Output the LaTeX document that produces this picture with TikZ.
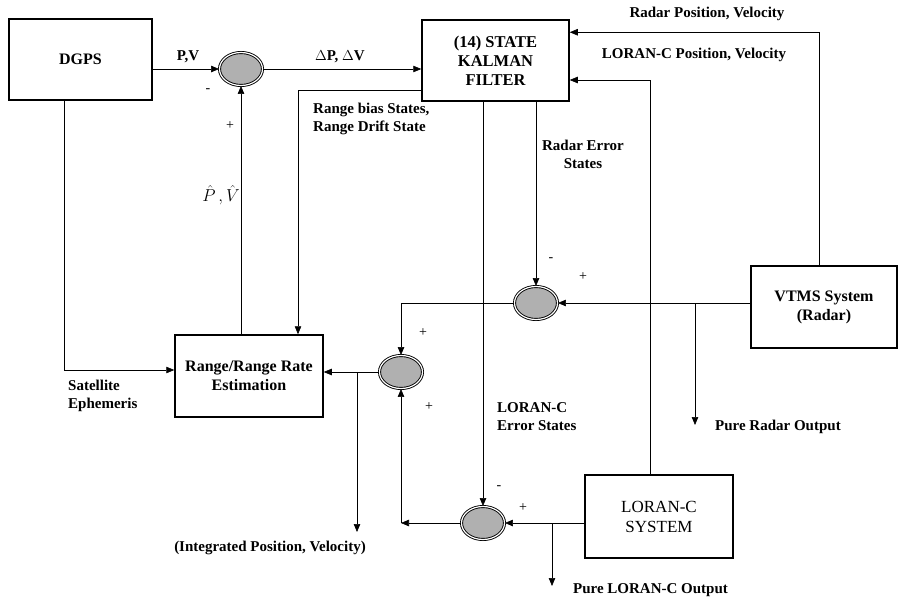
\documentclass[tikz,border=0pt]{standalone}
\usepackage{fontspec}
\setmainfont{Liberation Serif}
\usetikzlibrary{shapes.geometric,arrows.meta,calc}
\begin{document}
\begin{tikzpicture}[x=1pt,y=-1pt,
  box/.style={draw,line width=1.5pt,inner sep=0pt,align=center,font=\fontsize{16}{19}\selectfont\bfseries},
  sum/.style={ellipse,draw,line width=0.9pt,double=white,double distance=1.2pt,fill=gray!62,minimum width=43pt,minimum height=33pt,inner sep=0pt},
  arr/.style={-{Triangle[length=8pt,width=6.5pt]},line width=0.6pt},
  lbl/.style={font=\fontsize{15}{18}\selectfont\bfseries,inner sep=0pt},
  sgn/.style={font=\fontsize{14}{14}\selectfont,inner sep=0pt}]
\useasboundingbox (0,0) rectangle (898,600);
% blocks
\node[box,minimum width=143pt,minimum height=81pt] (dgps) at (80.5,59.5) {DGPS};
\node[box,minimum width=147pt,minimum height=81pt,font=\fontsize{16.5}{19}\selectfont\bfseries] (kf) at (495.5,60.5) {(14) STATE\\KALMAN\\FILTER};
\node[box,minimum width=148pt,minimum height=82pt] (rre) at (249,376) {Range/Range Rate\\Estimation};
\node[box,minimum width=146pt,minimum height=82pt] (vtms) at (824,307) {VTMS System\\(Radar)};
\node[box,minimum width=148pt,minimum height=83pt,font=\fontsize{17}{20}\selectfont] (loran) at (659,516.5) {LORAN-C\\SYSTEM};
% summing junctions
\node[sum] (s1) at (241,69) {};
\node[sum] (s2) at (401,372) {};
\node[sum] (s3) at (536,303) {};
\node[sum] (s4) at (483,523) {};
% free ends
\coordinate (pr) at (695,425);
\coordinate (ip) at (357,532);
\coordinate (pl) at (552,586);
% connectors
\draw[arr] (dgps.east |- s1) -- (s1.west);
\draw[arr] (s1.east) -- (s1.east -| kf.west);
\draw[arr] ($(kf.south west)+(0,-11)$) -| ($(rre.north)+(49,0)$);
\draw[arr] (rre.north -| s1) -- (s1.south);
\draw[arr] ($(dgps.south)+(-16,0)$) |- ($(rre.west)+(0,-6)$);
\draw[arr] (kf.south -| s3) -- (s3.north);
\draw[arr] (kf.south -| s4) -- (s4.north);
\draw[arr] (vtms.west |- s3) -- (s3.east);
\draw[arr] (pr |- s3) -- (pr);
\draw[arr] (s3.west) -| (s2.north);
\draw[arr] (s2.west) -- (s2.west -| rre.east);
\draw[arr] (ip |- s2) -- (ip);
\draw[arr] (loran.west |- s4) -- (s4.east);
\draw[arr] (pl |- s4) -- (pl);
\draw[arr] (s4.west) -- (s4.west -| s2);
\draw[arr] (s4.west -| s2) -- (s2.south);
\draw[arr] ($(loran.north)+(-9,0)$) |- ($(kf.east)+(0,19.5)$);
\draw[arr] ($(vtms.north)+(-5,0)$) |- ($(kf.north east)+(0,13)$);
% labels
\node[lbl] at (188,57) {P,V};
\node[lbl] at (340,57) {$\Delta$P, $\Delta$V};
\node[lbl,anchor=west,align=left] at (313,119) {Range bias States,\\Range Drift State};
\node[lbl,align=center] at (583,154) {Radar Error\\States};
\node[lbl] at (707,14) {Radar Position, Velocity};
\node[lbl] at (694,55) {LORAN-C Position, Velocity};
\node[lbl,anchor=west,align=left] at (68,396) {Satellite\\Ephemeris};
\node[lbl,anchor=west,align=left] at (497,417) {LORAN-C\\Error States};
\node[lbl,anchor=west] at (715,427) {Pure Radar Output};
\node[lbl] at (270,548) {(Integrated Position, Velocity)};
\node[lbl,anchor=west] at (573,590) {Pure LORAN-C Output};
\node[font=\fontsize{16}{16}\selectfont,inner sep=0pt] at (221,195) {$\hat{P}\,,\hat{V}$};
% signs
\node[sgn] at (208,91) {-};
\node[sgn] at (230,126) {+};
\node[sgn] at (551,260) {-};
\node[sgn] at (583,277) {+};
\node[sgn] at (423,333) {+};
\node[sgn] at (429,407) {+};
\node[sgn] at (499,488) {-};
\node[sgn] at (523,508) {+};
\end{tikzpicture}
\end{document}
